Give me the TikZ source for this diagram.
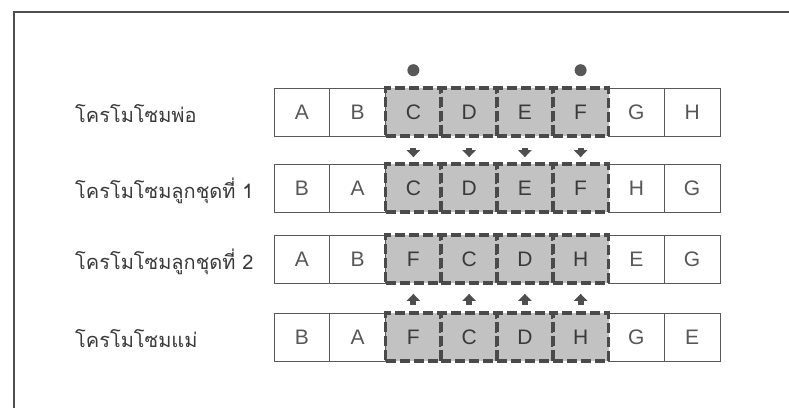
\documentclass[tikz,border=0pt]{standalone}
\usepackage{fontspec}
\setmainfont{Liberation Sans}
\newfontfamily\thaifont[Script=Thai]{Loma}
\usetikzlibrary{arrows.meta}
\definecolor{ink}{HTML}{3A3A3A}
\definecolor{shade}{HTML}{C2C2C2}
\definecolor{dashc}{HTML}{4A4A4A}
\tikzset{
  cell/.style={draw=ink!85, line width=1pt, minimum width=55.75pt, minimum height=48pt,
    inner sep=0pt, font=\fontsize{21}{21}\selectfont, text=ink!85},
  swapcell/.style={cell, fill=shade, draw=dashc, line width=3.6pt, dash pattern=on 10pt off 4pt, text=ink},
  lab/.style={anchor=base west, inner sep=0pt, font=\thaifont\fontsize{20}{20}\selectfont, text=ink},
  marker/.style={circle, fill=ink!85, minimum size=12pt, inner sep=0pt},
  movearrow/.style={-{Triangle[width=13pt,length=7pt]}, line width=6pt, draw=ink!90},
  frame/.style={draw=ink!90, line width=1.8pt}
}
\begin{document}
\begin{tikzpicture}[x=1pt,y=-1pt]
\useasboundingbox (0,0) rectangle (789,408);
\draw[frame] (789,12) -- (14,12) -- (14,408);
% rows: index / y / letters
\def\rowdata{1/112/{A,B,C,D,E,F,G,H}, 2/188/{B,A,C,D,E,F,H,G}, 3/259/{A,B,F,C,D,H,E,G}, 4/337/{B,A,F,C,D,H,G,E}}
\foreach \r/\yy/\letters in \rowdata {
  \foreach \l [count=\c] in \letters {
    \ifnum\c<3 \node[cell] (r\r c\c) at ({274+55.75*(\c-0.5)},\yy) {\l};\fi
    \ifnum\c>6 \node[cell] (r\r c\c) at ({274+55.75*(\c-0.5)},\yy) {\l};\fi
  }
}
\foreach \r/\yy/\letters in \rowdata {
  \foreach \l [count=\c] in \letters {
    \ifnum\c>2 \ifnum\c<7 \node[swapcell] (r\r c\c) at ({274+55.75*(\c-0.5)},\yy) {\l};\fi\fi
  }
}
\node[lab] (l1) at (75,122) {โครโมโซมพ่อ};
\node[lab] (l2) at (75,198) {โครโมโซมลูกชุดที่ 1};
\node[lab] (l3) at (75,269) {โครโมโซมลูกชุดที่ 2};
\node[lab] (l4) at (75,347) {โครโมโซมแม่};
\node[marker] (dotC) at ([yshift=16pt]r1c3.north) {};
\node[marker] (dotF) at ([yshift=16pt]r1c6.north) {};
\foreach \c in {3,4,5,6} {
  \draw[movearrow] ([yshift=-10pt]r1c\c.south) -- ([yshift=5pt]r2c\c.north);
  \draw[movearrow] ([yshift=6pt]r4c\c.north) -- ([yshift=-9pt]r3c\c.south);
}
\end{tikzpicture}
\end{document}
